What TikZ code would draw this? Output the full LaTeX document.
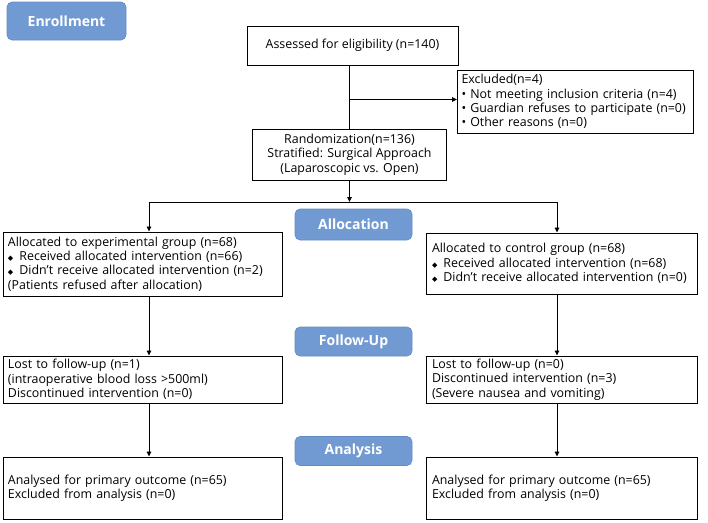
\documentclass[tikz,border=0pt]{standalone}
\usepackage{fontspec}
\setmainfont{Open Sans}
\newfontfamily\symfont{DejaVu Sans}
\usepackage{tikz}
\usepackage{xcolor}
\usetikzlibrary{positioning, arrows.meta, calc}
\definecolor{stageblue}{RGB}{114,154,210}
\definecolor{stageedge}{RGB}{98,138,196}
\newcommand{\dmd}{{\symfont\fontsize{7}{7}\selectfont ◆}\hspace{6pt}}
\tikzset{
    flowbox/.style={draw=black, line width=1pt, inner sep=0pt, font=\fontsize{12.4}{14.3}\selectfont},
    stage/.style={rounded corners=5pt, fill=stageblue, draw=stageedge, line width=0.6pt, text=white, font=\fontsize{14}{16}\selectfont\bfseries, inner sep=0pt},
    arr/.style={-{Triangle[length=5pt, width=4.5pt]}, line width=0.9pt},
    link/.style={line width=0.9pt}
}
\begin{document}
\begin{tikzpicture}[x=1pt, y=-1pt]
\useasboundingbox (0,0) rectangle (708,522);
% Stage labels
\node[stage, minimum width=119pt, minimum height=38pt] (enrol) at (66.5,21) {Enrollment};
\node[stage, minimum width=117pt, minimum height=31pt] (alloc) at (353.5,224.5) {Allocation};
\node[stage, minimum width=117pt, minimum height=29pt] (follow) at (353.5,341.5) {Follow-Up};
\node[stage, minimum width=117pt, minimum height=29pt] (anal) at (353.5,451) {Analysis};

% Enrollment
\node[flowbox, minimum width=211pt, minimum height=39pt, align=center] (assess) at (352.5,45.5) {Assessed for eligibility (n=140)};
\node[flowbox, inner xsep=4pt, minimum width=235pt, minimum height=63pt, text width=228pt, align=left] (excl) at (575.5,101.5)
    {Excluded(n=4)\\
     • Not meeting inclusion criteria (n=4)\\
     • Guardian refuses to participate (n=0)\\
     • Other reasons (n=0)};
\node[flowbox, minimum width=194pt, minimum height=51pt, align=center] (rand) at (349.5,154.5)
    {Randomization(n=136)\\Stratified: Surgical Approach\\(Laparoscopic vs. Open)};

% Allocation
\node[flowbox, minimum width=279pt, minimum height=64pt, text width=269pt, align=left] (allocL) at (142.5,264)
    {Allocated to experimental group (n=68)\\
     \dmd Received allocated intervention (n=66)\\
     \dmd Didn't receive allocated intervention (n=2)\\
     (Patients refused after allocation)};
\node[flowbox, minimum width=271pt, minimum height=61pt, text width=259pt, align=left] (allocR) at (561.5,263.5)
    {Allocated to control group (n=68)\\
     \dmd Received allocated intervention (n=68)\\
     \dmd Didn't receive allocated intervention (n=0)};

% Follow-up
\node[flowbox, minimum width=279pt, minimum height=47pt, text width=269pt, align=left] (followL) at (142.5,379.5)
    {Lost to follow-up (n=1)\\
     (intraoperative blood loss >500ml)\\
     Discontinued intervention (n=0)};
\node[flowbox, minimum width=271pt, minimum height=47pt, text width=259pt, align=left] (followR) at (561.5,379.5)
    {Lost to follow-up (n=0)\\
     Discontinued intervention (n=3)\\
     (Severe nausea and vomiting)};

% Analysis
\node[flowbox, minimum width=279pt, minimum height=62pt, text width=269pt, align=left] (analL) at (142.5,488)
    {Analysed for primary outcome (n=65)\\
     Excluded from analysis (n=0)};
\node[flowbox, minimum width=271pt, minimum height=62pt, text width=259pt, align=left] (analR) at (561.5,488)
    {Analysed for primary outcome (n=65)\\
     Excluded from analysis (n=0)};

% Connectors
\coordinate (split) at (349.5,202);
\coordinate (lx) at (149,202);
\coordinate (rx) at (557,202);
\draw[link] (assess.south -| rand) -- (rand.north);
\draw[arr] (excl.west -| rand) ++(0,-2) -- ($(excl.west)+(0,-2)$);
\draw[arr] (rand.south) -- (split);
\draw[link] (lx) -- (rx);
\draw[arr] (lx) -- (lx |- allocL.north);
\draw[arr] (rx) -- (rx |- allocR.north);
\draw[arr] (allocL.south -| lx) -- (followL.north -| lx);
\draw[arr] (allocR.south -| rx) -- (followR.north -| rx);
\draw[arr] (followL.south -| lx) -- (analL.north -| lx);
\draw[arr] (followR.south -| rx) -- (analR.north -| rx);
\end{tikzpicture}
\end{document}
